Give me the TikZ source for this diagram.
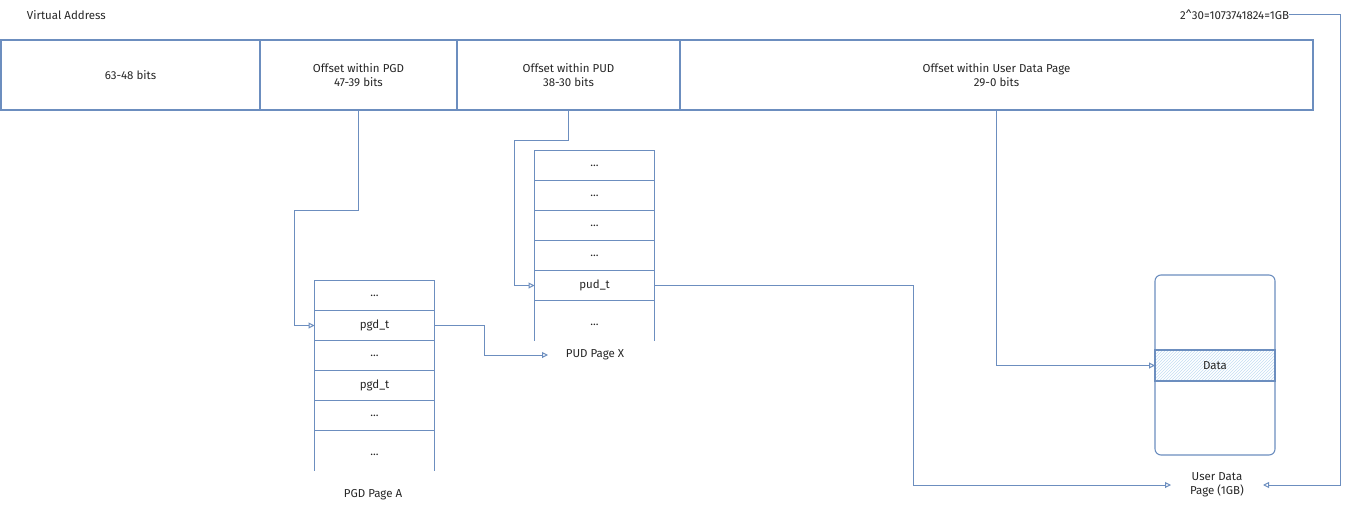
\documentclass[tikz,border=0pt]{standalone}
\usepackage{fontspec}
\setmainfont{Fira Sans}
\usetikzlibrary{arrows.meta,patterns}
\definecolor{ln}{HTML}{6C8EBF}
\definecolor{hatch}{HTML}{C4DDF2}
\begin{document}
\begin{tikzpicture}[x=1pt,y=-1pt,
  every node/.style={font=\fontsize{11.5}{14}\selectfont, text=black!85, inner sep=0pt, outer sep=0pt},
  cell/.style={draw=ln, line width=1.1pt, align=center},
  row/.style={draw=ln, line width=1.1pt, minimum width=120pt, minimum height=30pt},
  conn/.style={draw=ln, line width=1pt},
  arr/.style={conn, -{Triangle[open, length=6pt, width=6pt]}}]
\useasboundingbox (0,0) rectangle (1349,511);
% top bar
\node[anchor=west] (va) at (27,15) {Virtual Address};
\node[anchor=east] (gb) at (1289,15) {2\textasciicircum 30=1073741824=1GB};
\node[cell, minimum width=259pt, minimum height=70pt] (hi) at (130.5,75) {63-48 bits};
\node[cell, minimum width=197pt, minimum height=70pt] (pgdoff) at (358.5,75) {Offset within PGD\\47-39 bits};
\node[cell, minimum width=223pt, minimum height=70pt] (pudoff) at (568.5,75) {Offset within PUD\\38-30 bits};
\node[cell, minimum width=633pt, minimum height=70pt] (udoff) at (996.5,75) {Offset within User Data Page\\29-0 bits};
% PGD table
\node[row] (g0) at (374.5,295.5) {...};
\node[row] (g1) at (374.5,325.5) {pgd\_t};
\node[row] (g2) at (374.5,355.5) {...};
\node[row] (g3) at (374.5,385.5) {pgd\_t};
\node[row] (g4) at (374.5,415.5) {...};
\node[minimum width=120pt, minimum height=40pt] (g5) at (374.5,450.5) {};
\node at (374.5,455) {...};
\draw[ln, line width=1.1pt] (g5.north west) -- (g5.south west) (g5.north east) -- (g5.south east);
\node (pgdlbl) at (373,495) {PGD Page A};
% PUD table
\node[row] (p0) at (594.5,165.5) {...};
\node[row] (p1) at (594.5,195.5) {...};
\node[row] (p2) at (594.5,225.5) {...};
\node[row] (p3) at (594.5,255.5) {...};
\node[row] (p4) at (594.5,285.5) {pud\_t};
\node[minimum width=120pt, minimum height=40pt] (p5) at (594.5,320.5) {};
\node at (594.5,325) {...};
\draw[ln, line width=1.1pt] (p5.north west) -- (p5.south west) (p5.north east) -- (p5.south east);
\node[minimum width=94pt, minimum height=14pt] (pudlbl) at (595,355) {PUD Page X};
% user data page
\node[draw=ln, line width=1.1pt, rounded corners=6pt, minimum width=120pt, minimum height=180pt] (udpage) at (1215,365) {};
\node[draw=ln, line width=1.1pt, fill=hatch!20, pattern=north east lines, pattern color=hatch, minimum width=120pt, minimum height=31pt] (data) at (1215,365.5) {};
\node at (1215,366) {Data};
\node[align=center, minimum width=92pt] (udlbl) at (1217,485) {User Data\\Page (1GB)};
% connectors
\draw[arr] (pgdoff.south) -- (358.5,210) -- (294,210) |- (g1.west);
\draw[arr] (g1.east) -- (484,325.5) |- (pudlbl.west);
\draw[arr] (pudoff.south) -- (568.5,140) -- (514,140) |- (p4.west);
\draw[arr] (p4.east) -- (913,285.5) |- (udlbl.west);
\draw[arr] (udoff.south) |- (data.west);
\draw[arr] (gb.east) -- (1340,15) |- (udlbl.east);
\end{tikzpicture}
\end{document}
